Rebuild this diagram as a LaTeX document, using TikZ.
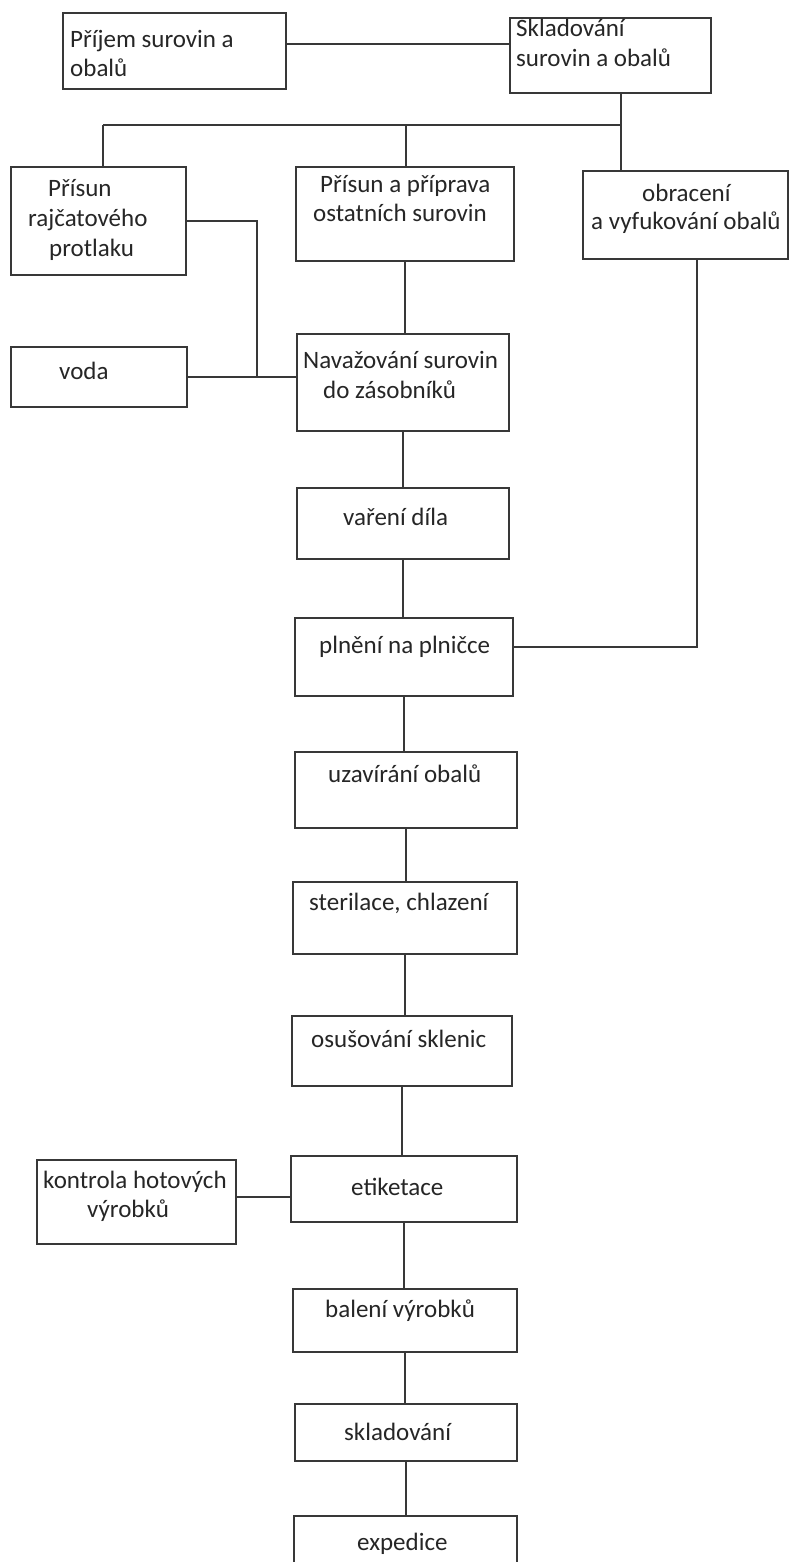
\documentclass[tikz,border=0pt]{standalone}
\usepackage{fontspec}
\setmainfont{Carlito}
\tikzset{
  box/.style={draw=black!78, line width=1.8pt, rectangle, inner sep=0pt},
  txt/.style={inner sep=0pt, anchor=base west, text=black!85, font=\fontsize{25}{30}\selectfont},
  conn/.style={draw=black!78, line width=1.8pt}
}
\begin{document}
\begin{tikzpicture}[x=1pt,y=-1pt]
\useasboundingbox (0,0) rectangle (789,1562);
\clip (0,0) rectangle (789,1562);
\fill[white] (0,0) rectangle (789,1562);
% boxes
\node[box, minimum width=223pt, minimum height=76pt] (b1) at (174.5,51) {};
\node[box, minimum width=201pt, minimum height=75pt] (b2) at (610.5,55.5) {};
\node[box, minimum width=175pt, minimum height=108pt] (b3) at (98.5,221) {};
\node[box, minimum width=218pt, minimum height=94pt] (b4) at (405,214) {};
\node[box, minimum width=205pt, minimum height=88pt] (b5) at (685.5,215) {};
\node[box, minimum width=176pt, minimum height=60pt] (b6) at (99,377) {};
\node[box, minimum width=212pt, minimum height=97pt] (b7) at (403,382.5) {};
\node[box, minimum width=212pt, minimum height=71pt] (b8) at (403,523.5) {};
\node[box, minimum width=218pt, minimum height=78pt] (b9) at (404,657) {};
\node[box, minimum width=222pt, minimum height=76pt] (b10) at (406,790) {};
\node[box, minimum width=224pt, minimum height=72pt] (b11) at (405,918) {};
\node[box, minimum width=220pt, minimum height=70pt] (b12) at (402,1051) {};
\node[box, minimum width=199pt, minimum height=84pt] (b13) at (136.5,1202) {};
\node[box, minimum width=226pt, minimum height=66pt] (b14) at (404,1189) {};
\node[box, minimum width=224pt, minimum height=63pt] (b15) at (405,1320.5) {};
\node[box, minimum width=222pt, minimum height=57pt] (b16) at (406,1432.5) {};
\node[box, minimum width=223pt, minimum height=84pt] (b17) at (405.5,1558) {};
% texts
\node[txt] (t1a) at (70,48) {Příjem surovin a};
\node[txt] (t1b) at (70,77) {obalů};
\node[txt] (t2a) at (516,37) {Skladování};
\node[txt] (t2b) at (516,67) {surovin a obalů};
\node[txt] (t3a) at (48,197) {Přísun};
\node[txt] (t3b) at (28,227) {rajčatového};
\node[txt] (t3c) at (49,257) {protlaku};
\node[txt] (t4a) at (320,193) {Přísun a příprava};
\node[txt] (t4b) at (313,222) {ostatních surovin};
\node[txt] (t5a) at (642,202) {obracení};
\node[txt] (t5b) at (591,230) {a vyfukování obalů};
\node[txt] (t6) at (59,379) {voda};
\node[txt] (t7a) at (303,368) {Navažování surovin};
\node[txt] (t7b) at (323,398) {do zásobníků};
\node[txt] (t8) at (343,525) {vaření díla};
\node[txt] (t9) at (319,653) {plnění na plničce};
\node[txt] (t10) at (328,782) {uzavírání obalů};
\node[txt] (t11) at (309,910) {sterilace, chlazení};
\node[txt] (t12) at (311,1047) {osušování sklenic};
\node[txt] (t13a) at (43,1188) {kontrola hotových};
\node[txt] (t13b) at (87,1217) {výrobků};
\node[txt] (t14) at (351,1195) {etiketace};
\node[txt] (t15) at (325,1317) {balení výrobků};
\node[txt] (t16) at (344,1440) {skladování};
\node[txt] (t17) at (357,1550) {expedice};
% junction coordinates
\coordinate (y44) at (0,44);
\coordinate (bus) at (621,125);
\coordinate (busL) at (103,125);
\coordinate (busM) at (406,125);
\coordinate (jw) at (257,378);
\coordinate (pr) at (697,647);
\coordinate (y1197) at (0,1197);
% connectors
\draw[conn] (b1.east |- y44) -- (b2.west |- y44);
\draw[conn] (b2.south -| bus) -- (b5.north -| bus);
\draw[conn] (busL) -- (bus);
\draw[conn] (busL) -- (b3.north -| busL);
\draw[conn] (busM) -- (b4.north -| busM);
\draw[conn] (b3.east) -| (jw);
\draw[conn] (b6.east) -- (b7.west |- b6.east);
\draw[conn] (b4.south) -- (b4.south |- b7.north);
\draw[conn] (b7.south) -- (b7.south |- b8.north);
\draw[conn] (b8.south) -- (b8.south |- b9.north);
\draw[conn] (b9.east |- pr) -| (b5.south -| pr);
\draw[conn] (b9.south) -- (b9.south |- b10.north);
\draw[conn] (b10.south) -- (b10.south |- b11.north);
\draw[conn] (b11.south) -- (b11.south |- b12.north);
\draw[conn] (b12.south) -- (b12.south |- b14.north);
\draw[conn] (b13.east |- y1197) -- (b14.west |- y1197);
\draw[conn] (b14.south) -- (b14.south |- b15.north);
\draw[conn] (b15.south) -- (b15.south |- b16.north);
\draw[conn] (b16.south) -- (b16.south |- b17.north);
\end{tikzpicture}
\end{document}
